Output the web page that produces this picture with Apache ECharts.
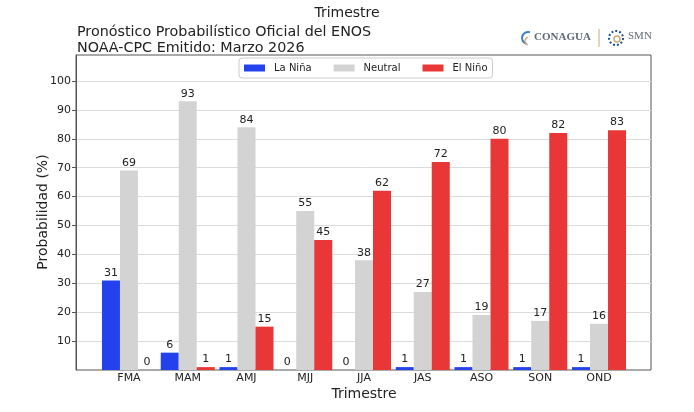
<!DOCTYPE html>
<html>
<head>
<meta charset="utf-8">
<script src="https://cdn.jsdelivr.net/npm/echarts@6/dist/echarts.min.js"></script>
<style>
  html, body { margin: 0; padding: 0; background: #fff; }
  #box { width: 694px; height: 412px; }
</style>
</head>
<body>
<div id="box"></div>
<script>
// datos
var categorias = ['FMA', 'MAM', 'AMJ', 'MJJ', 'JJA', 'JAS', 'ASO', 'SON', 'OND'];
var laNina = [31, 6, 1, 0, 0, 1, 1, 1, 1];
var neutral = [69, 93, 84, 55, 38, 27, 19, 17, 16];
var elNino = [0, 1, 15, 45, 62, 72, 80, 82, 83];
var marcasY = [10, 20, 30, 40, 50, 60, 70, 80, 90, 100];

window.onload = function () {
    var myChart = echarts.init(document.getElementById('box'));
    var fuente = 'DejaVu Sans';
    var etiqueta = { show: true, position: 'top', distance: 2, fontSize: 11, color: '#222', fontFamily: fuente };

    var option = {
        animation: false,
        textStyle: { fontFamily: fuente },
        title: [{
            text: 'Trimestre',
            left: 'center',
            top: 1,
            textStyle: { fontSize: 14, fontWeight: 'normal', color: '#222', fontFamily: fuente }
        }, {
            text: 'Pronóstico Probabilístico Oficial del ENOS\nNOAA-CPC Emitido: Marzo 2026',
            left: 72,
            top: 19,
            textStyle: { fontSize: 14.3, lineHeight: 16, fontWeight: 'normal', color: '#222', fontFamily: fuente }
        }],
        legend: {
            data: ['La Niña', 'Neutral', 'El Niño'],
            left: 239,
            top: 58,
            itemWidth: 21,
            itemHeight: 7,
            itemGap: 22,
            borderColor: '#ccc',
            borderWidth: 1,
            borderRadius: 3,
            padding: [5, 5],
            icon: 'rect',
            textStyle: { fontSize: 10, color: '#222', fontFamily: fuente, padding: [0, 0, 0, 4] }
        },
        grid: [
            // marco y eje y
            { left: 76, right: 43, top: 55, bottom: 42, show: true, borderColor: '#555', borderWidth: 1 },
            // barras
            { left: 99.6, right: 65.6, top: 55, bottom: 42 }
        ],
        xAxis: [
            { gridIndex: 0, type: 'value', min: 0, max: 1, show: false },
            {
                gridIndex: 1,
                type: 'category',
                data: categorias,
                axisLine: { show: false },
                axisTick: { show: false },
                axisLabel: { fontSize: 11, color: '#222', margin: 3, fontFamily: fuente }
            }
        ],
        yAxis: [
            {
                gridIndex: 0,
                type: 'value',
                min: 0,
                max: 109,
                interval: 10,
                axisLine: { show: true, lineStyle: { color: '#555' } },
                axisTick: { show: true, length: 4, lineStyle: { color: '#555' }, customValues: marcasY },
                axisLabel: { fontSize: 11, color: '#222', margin: 5, fontFamily: fuente, customValues: marcasY },
                splitLine: { show: true, lineStyle: { color: '#dcdcdc', width: 1 } }
            },
            { gridIndex: 1, type: 'value', min: 0, max: 109, show: false }
        ],
        series: [
            { name: 'La Niña', type: 'bar', xAxisIndex: 1, yAxisIndex: 1, data: laNina, barWidth: 18, barGap: '0%', itemStyle: { color: '#2342ee' }, label: etiqueta },
            { name: 'Neutral', type: 'bar', xAxisIndex: 1, yAxisIndex: 1, data: neutral, barWidth: 18, barGap: '0%', itemStyle: { color: '#d3d3d3' }, label: etiqueta },
            { name: 'El Niño', type: 'bar', xAxisIndex: 1, yAxisIndex: 1, data: elNino, barWidth: 18, barGap: '0%', itemStyle: { color: '#e93636' }, label: etiqueta }
        ],
        graphic: [
            {
                type: 'text', x: 43, y: 212, rotation: Math.PI / 2,
                style: { text: 'Probabilidad (%)', fontSize: 14, fill: '#222', fontFamily: fuente, align: 'center', verticalAlign: 'middle' }
            },
            {
                type: 'text', x: 364, y: 394,
                style: { text: 'Trimestre', fontSize: 14, fill: '#222', fontFamily: fuente, align: 'center', verticalAlign: 'middle' }
            },
            // logotipos (aprox.)
            { type: 'arc', shape: { cx: 528, cy: 38, r: 6, startAngle: Math.PI * 0.6, endAngle: Math.PI * 1.6 }, style: { fill: 'none', stroke: '#3a7cc4', lineWidth: 2 } },
            { type: 'arc', shape: { cx: 529, cy: 41, r: 4, startAngle: Math.PI * 0.6, endAngle: Math.PI * 1.4 }, style: { fill: 'none', stroke: '#c8ab74', lineWidth: 1.5 } },
            {
                type: 'text', x: 534, y: 37,
                style: { text: 'CONAGUA', fontSize: 11, fontWeight: 'bold', fill: '#626a75', fontFamily: 'Liberation Serif', verticalAlign: 'middle' }
            },
            { type: 'line', shape: { x1: 599, y1: 29, x2: 599, y2: 47 }, style: { stroke: '#c8ab74', lineWidth: 1 } },
            { type: 'circle', shape: { cx: 616, cy: 38, r: 7 }, style: { fill: 'none', stroke: '#1f4f8f', lineWidth: 2, lineDash: [2, 2] } },
            { type: 'circle', shape: { cx: 617, cy: 39, r: 3 }, style: { fill: 'none', stroke: '#c8ab74', lineWidth: 1.5 } },
            {
                type: 'text', x: 628, y: 36,
                style: { text: 'SMN', fontSize: 11, fill: '#626a75', fontFamily: 'Liberation Serif', verticalAlign: 'middle' }
            }
        ]
    };
    myChart.setOption(option);
};
</script>
</body>
</html>
